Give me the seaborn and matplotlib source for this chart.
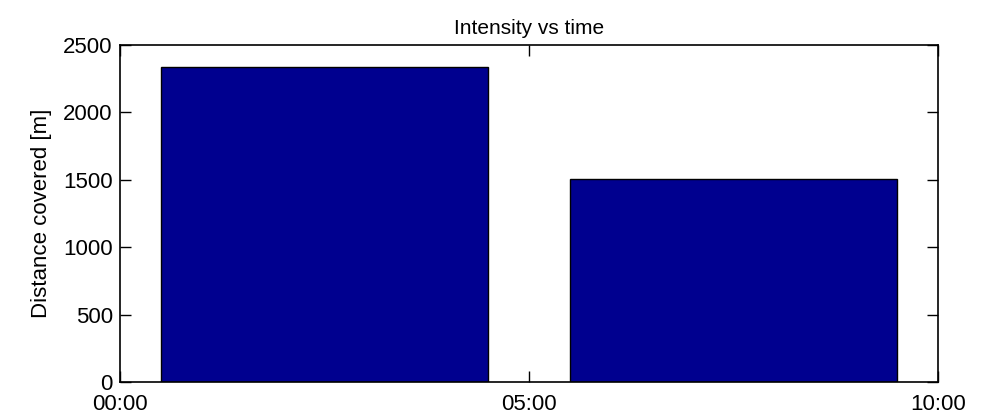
import matplotlib
matplotlib.use('Agg')
import matplotlib.pyplot as plt
import matplotlib.ticker as mtick
import pandas as pd
import seaborn as sns

# centres of the two 5-minute blocks (seconds) and distance per block
interval_mid = [150, 450]
distance = [2340, 1505]
x_ticks = [0, 300, 600]
y_ticks = [0, 500, 1000, 1500, 2000, 2500]

df = pd.DataFrame({'t': interval_mid, 'distance': distance})

sns.set_style('ticks', {'text.color': 'black', 'axes.labelcolor': 'black',
                        'xtick.color': 'black', 'ytick.color': 'black'})
plt.rcParams['font.family'] = ['Liberation Sans', 'DejaVu Sans']
plt.rcParams['xtick.direction'] = 'in'
plt.rcParams['ytick.direction'] = 'in'


def mmss(x, pos):
    return '%02d:%02d' % (int(x) // 60, int(x) % 60)


fig, ax = plt.subplots(figsize=(9.82, 4.17), dpi=100)
fig.subplots_adjust(left=0.122, right=0.955, bottom=0.084, top=0.892)
sns.barplot(data=df, x='t', y='distance', native_scale=True, width=0.8,
            color='#00008f', saturation=1, edgecolor='black', linewidth=1,
            ax=ax)
ax.set_xlim(0, 600)
ax.set_ylim(0, 2500)
ax.set_xticks(x_ticks)
ax.set_yticks(y_ticks)
ax.xaxis.set_major_formatter(mtick.FuncFormatter(mmss))
ax.tick_params(top=True, right=True, length=8, width=1, labelsize=16,
               color='black', labelcolor='black')
ax.tick_params(axis='x', pad=9)
ax.tick_params(axis='y', pad=5)
for s in ax.spines.values():
    s.set_visible(True)
    s.set_linewidth(1.2)
    s.set_color('black')
ax.set_xlabel('')
ax.set_ylabel('Distance covered [m]', fontsize=16, labelpad=8, color='black')
ax.set_title('Intensity vs time', fontsize=15, pad=8, color='black')

fig.savefig('out.png', dpi=100)
